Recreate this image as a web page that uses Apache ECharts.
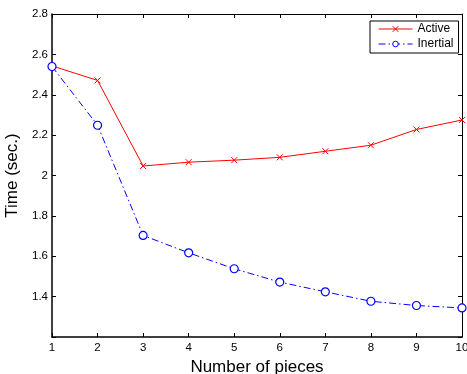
<!DOCTYPE html>
<html>
<head>
<meta charset="utf-8">
<script src="https://cdn.jsdelivr.net/npm/echarts@6/dist/echarts.min.js"></script>
<style>
  html, body { margin: 0; padding: 0; background: #fff; }
  #chart { width: 467px; height: 374px; }
</style>
</head>
<body>
<div id="chart"></div>
<script>
// number of pieces
const pieces = [1, 2, 3, 4, 5, 6, 7, 8, 9, 10]
// time (sec.)
const activeTimes = [2.543, 2.471, 2.047, 2.066, 2.076, 2.09, 2.12, 2.15, 2.228, 2.275]
const inertialTimes = [2.54, 2.249, 1.703, 1.617, 1.538, 1.472, 1.424, 1.377, 1.356, 1.344]

const font = 'Liberation Sans, Arial, Helvetica, sans-serif'
const crossPath = 'path://M0,0L10,10M10,0L0,10'

const chart = echarts.init(document.getElementById('chart'))

// box axes, ticks pointing in like matlab
const boxAxis = (w) => ({
  axisLine: { show: true, lineStyle: { color: '#000', width: w } },
  axisTick: { show: true, inside: true, length: 4, lineStyle: { color: '#000' } },
  splitLine: { show: false }
})

chart.setOption({
  animation: false,
  grid: { left: 52, right: 5, top: 14, bottom: 37, outerBoundsMode: 'none' },
  legend: {
    left: 370,
    top: 21,
    orient: 'vertical',
    backgroundColor: '#fff',
    borderColor: '#000',
    borderWidth: 1,
    borderRadius: 0,
    padding: [2, 5, 3, 8],
    itemGap: 3,
    itemWidth: 34,
    itemHeight: 7,
    lineStyle: { width: 1 },
    itemStyle: { borderWidth: 1 },
    textStyle: { fontFamily: font, fontSize: 12, color: '#000' },
    data: ['Active', 'Inertial']
  },
  xAxis: [
    {
      type: 'value', min: 1, max: 10, interval: 1,
      name: 'Number of pieces', nameLocation: 'middle', nameGap: 17,
      nameTextStyle: { fontFamily: font, fontSize: 17, color: '#000' },
      axisLabel: { fontFamily: font, fontSize: 11.5, color: '#000', margin: 5 },
      ...boxAxis(1.5)
    },
    {
      type: 'value', min: 1, max: 10, interval: 1, position: 'top',
      axisLabel: { show: false },
      ...boxAxis(1)
    }
  ],
  yAxis: [
    {
      type: 'value', min: 1.2, max: 2.8, interval: 0.2,
      name: 'Time (sec.)', nameLocation: 'middle', nameGap: 26,
      nameTextStyle: { fontFamily: font, fontSize: 17, color: '#000' },
      axisLabel: {
        fontFamily: font, fontSize: 11.5, color: '#000', margin: 4,
        formatter: v => (Math.abs(v - 1.2) < 1e-6 ? '' : String(+v.toFixed(1)))
      },
      ...boxAxis(1.5)
    },
    {
      type: 'value', min: 1.2, max: 2.8, interval: 0.2, position: 'right',
      axisLabel: { show: false },
      ...boxAxis(1)
    }
  ],
  series: [
    {
      name: 'Active',
      type: 'line',
      data: pieces.map((p, i) => [p, activeTimes[i]]),
      symbol: crossPath,
      symbolSize: 6,
      showAllSymbol: true,
      itemStyle: { color: '#ff0000', borderColor: '#ff0000', borderWidth: 1 },
      lineStyle: { color: '#ff0000', width: 1 }
    },
    {
      name: 'Inertial',
      type: 'line',
      data: pieces.map((p, i) => [p, inertialTimes[i]]),
      symbol: 'circle',
      symbolSize: 8,
      showAllSymbol: true,
      itemStyle: { color: '#fff', borderColor: '#0000ff', borderWidth: 1.2 },
      lineStyle: { color: '#0000ff', width: 1, type: [7, 3, 1.5, 3] }
    }
  ]
})
</script>
</body>
</html>
